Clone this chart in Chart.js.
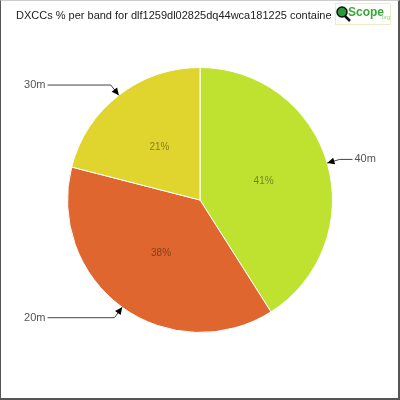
<!DOCTYPE html>
<html>
<head>
<meta charset="utf-8">
<script src="https://cdn.jsdelivr.net/npm/chart.js@4/dist/chart.umd.min.js"></script>
<style>
  html, body { margin: 0; padding: 0; background: #fff; }
  #wrap { position: relative; width: 400px; height: 400px; }
  #marco {
    position: absolute; left: 0; top: 0; width: 400px; height: 400px; box-sizing: border-box; pointer-events: none;
    border-left: 1px solid #555; border-right: 2px solid #555; border-bottom: 2px solid #555; border-top: 1px solid #ccc;
  }
</style>
</head>
<body>
<div id="wrap"><canvas id="grafica"></canvas><div id="marco"></div></div>
<script>
const titulo = 'DXCCs % per band for dlf1259dl02825dq44wca181225 containe';
const bandas = ['40m', '20m', '30m'];
const porcentajes = [41, 38, 21];
const colores = ['#bfe130', '#e0662f', '#e0d52e'];

// lineas con flecha hacia cada porcion + textos
const etiquetasPlugin = {
    id: 'etiquetas',
    afterDraw(chart) {
        const ctx = chart.ctx;
        const arcos = chart.getDatasetMeta(0).data;
        const total = porcentajes.reduce((a, b) => a + b, 0);
        ctx.save();
        arcos.forEach((arc, i) => {
            const p = arc.getProps(['x', 'y', 'startAngle', 'endAngle', 'outerRadius'], true);
            const mid = (p.startAngle + p.endAngle) / 2;
            const c = Math.cos(mid), s = Math.sin(mid);

            // porcentaje dentro
            ctx.fillStyle = 'rgba(0,0,0,0.42)';
            ctx.font = '10px "Liberation Sans"';
            ctx.textAlign = 'center';
            ctx.textBaseline = 'middle';
            const rr = p.outerRadius * 0.5;
            ctx.fillText(Math.round(porcentajes[i] / total * 100) + '%', p.x + c * rr, p.y + s * rr);

            // linea guia
            const tx = p.x + c * p.outerRadius, ty = p.y + s * p.outerRadius;
            const ex = p.x + c * (p.outerRadius + 13), ey = p.y + s * (p.outerRadius + 13);
            const derecha = c >= 0;
            const hx = derecha ? p.x + p.outerRadius + 20 : p.x - p.outerRadius - 20;
            ctx.strokeStyle = '#444';
            ctx.lineWidth = 1;
            ctx.beginPath();
            ctx.moveTo(hx, ey);
            ctx.lineTo(ex, ey);
            ctx.lineTo(tx, ty);
            ctx.stroke();
            // flecha
            const ang = Math.atan2(ty - ey, tx - ex);
            ctx.fillStyle = '#000';
            ctx.beginPath();
            ctx.moveTo(tx, ty);
            ctx.lineTo(tx - 8 * Math.cos(ang - 0.45), ty - 8 * Math.sin(ang - 0.45));
            ctx.lineTo(tx - 8 * Math.cos(ang + 0.45), ty - 8 * Math.sin(ang + 0.45));
            ctx.closePath();
            ctx.fill();

            ctx.fillStyle = '#555';
            ctx.font = '11px "Liberation Sans"';
            ctx.textAlign = derecha ? 'left' : 'right';
            ctx.fillText(bandas[i], derecha ? hx + 2 : hx - 2, ey);
        });

        // titulo
        ctx.fillStyle = '#222';
        ctx.font = '11px "Liberation Sans"';
        ctx.textAlign = 'left';
        ctx.textBaseline = 'middle';
        ctx.fillText(titulo, 16, 16);

        // logo
        ctx.fillStyle = '#fff';
        ctx.fillRect(332, 2, 60, 24);
        ctx.strokeStyle = '#e8efc8';
        ctx.lineWidth = 1;
        ctx.strokeRect(335.5, 3.5, 55, 21);
        ctx.fillStyle = '#2a9a3a';
        ctx.beginPath();
        ctx.arc(342, 12, 5, 0, Math.PI * 2);
        ctx.fill();
        ctx.strokeStyle = '#111';
        ctx.lineWidth = 1.5;
        ctx.stroke();
        ctx.beginPath();
        ctx.moveTo(345, 16);
        ctx.lineTo(350, 21);
        ctx.lineWidth = 2.5;
        ctx.stroke();
        ctx.fillStyle = '#3aa83a';
        ctx.font = 'bold 12px "Liberation Sans Narrow", "Liberation Sans"';
        ctx.fillText('Scope', 348, 13);
        ctx.fillStyle = '#9fd080';
        ctx.font = '6px "Liberation Sans"';
        ctx.fillText('.org', 380, 17);
        ctx.restore();
    }
};

new Chart(document.getElementById('grafica'), {
    type: 'pie',
    data: {
        labels: bandas,
        datasets: [{
            data: porcentajes,
            backgroundColor: colores,
            borderColor: '#fff',
            borderWidth: 1
        }]
    },
    options: {
        responsive: true,
        maintainAspectRatio: false,
        animation: false,
        layout: { padding: 67 },
        plugins: {
            legend: { display: false },
            title: { display: false },
            tooltip: { enabled: false }
        }
    },
    plugins: [etiquetasPlugin]
});
</script>
</body>
</html>
